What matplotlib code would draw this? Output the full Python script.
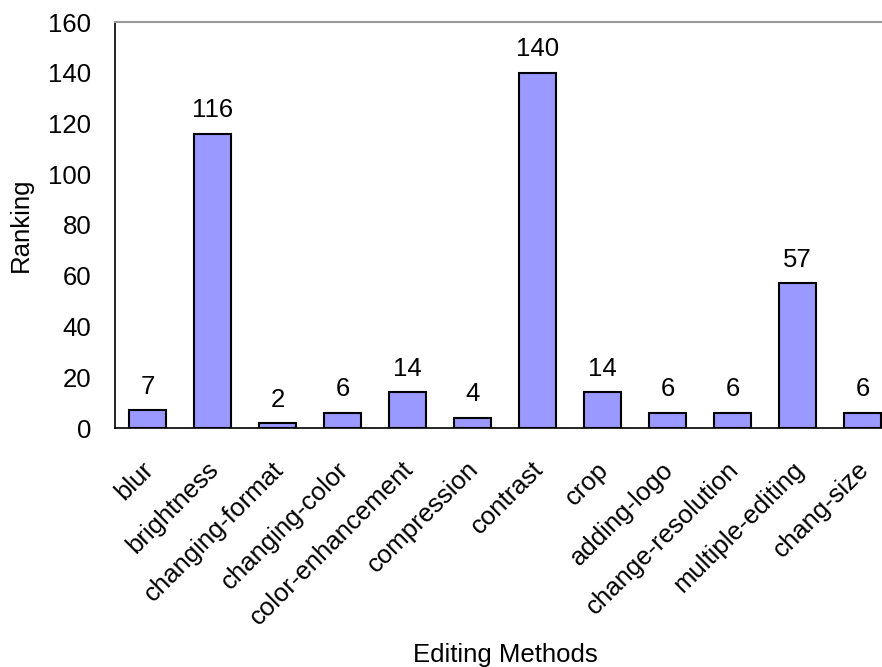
import matplotlib
matplotlib.use("Agg")
import matplotlib.pyplot as plt
import matplotlib.transforms as mtransforms

## Data
methods = ["blur", "brightness", "changing-format", "changing-color",
           "color-enhancement", "compression", "contrast", "crop",
           "adding-logo", "change-resolution", "multiple-editing", "chang-size"]
ranking = [7, 116, 2, 6, 14, 4, 140, 14, 6, 6, 57, 6]
yticks = [0, 20, 40, 60, 80, 100, 120, 140, 160]

plt.rcParams['font.family'] = ['Liberation Sans', 'DejaVu Sans']
FS = 18.5

fig = plt.figure(figsize=(8.82, 6.67), dpi=100)
# axes runs a little past the right edge of the figure
ax = fig.add_axes([115 / 882, 1 - 428 / 667, 780 / 882, 406 / 667])

x = range(len(methods))
bars = ax.bar(x, ranking, width=0.57, color="#9999ff", edgecolor="black", linewidth=1.5)

for b, v in zip(bars, ranking):
    ax.text(b.get_x() + b.get_width() / 2, v + 4.5, str(v),
            ha="center", va="bottom", fontsize=FS)

ax.set_xlim(-0.5, len(methods) - 0.5)
ax.set_ylim(0, 160)
ax.set_yticks(yticks)
ax.tick_params(axis="y", length=0, pad=17, labelsize=FS)
ax.tick_params(axis="x", length=0, pad=21, labelsize=FS)
ax.set_xticks(list(x))
ax.set_xticklabels(methods, rotation=45, ha="right", rotation_mode="anchor")

# nudge the slanted labels a bit to the left
shift = mtransforms.ScaledTranslation(-6 / 100, 0, fig.dpi_scale_trans)
for lbl in ax.get_xticklabels():
    lbl.set_transform(lbl.get_transform() + shift)

ax.spines["right"].set_visible(False)
ax.spines["top"].set_color("#999999")
ax.spines["top"].set_linewidth(1.5)
ax.spines["left"].set_linewidth(1.2)
ax.spines["bottom"].set_linewidth(1.2)

ax.set_ylabel("Ranking", fontsize=FS, labelpad=11)
fig.text(505 / 882, 1 - 655 / 667, "Editing Methods", ha="center", va="center", fontsize=FS)

fig.savefig("out.png", dpi=100)
